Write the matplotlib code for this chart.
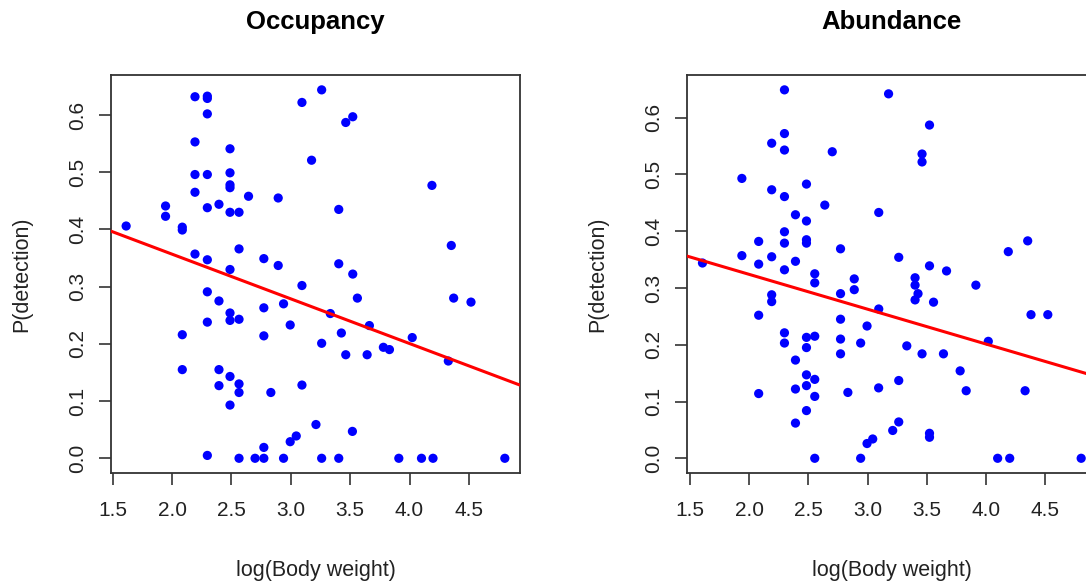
import matplotlib
matplotlib.use("Agg")
import matplotlib.pyplot as plt
import numpy as np

plt.rcParams['font.family'] = ['Liberation Sans', 'DejaVu Sans']

# log body weight vs detection probability, occupancy models
occ_x = [1.613, 1.945, 1.945, 2.086, 2.086, 2.193, 2.297, 2.297, 2.297, 2.193,
         2.488, 2.193, 2.297, 2.488, 2.488, 2.488, 2.193, 2.644, 2.894, 2.297,
         2.395, 2.488, 2.564, 3.094, 3.175, 2.193, 2.564, 2.297, 2.773, 2.894,
         2.488, 3.260, 3.522, 3.463, 4.189, 3.404, 4.352, 3.404, 3.522, 3.094,
         2.297, 2.395, 2.488, 2.488, 2.564, 2.773, 2.939, 2.995, 2.297, 2.773,
         2.086, 2.086, 2.395, 2.488, 2.395, 2.564, 2.564, 2.832, 3.094, 2.488,
         2.297, 2.564, 2.699, 2.773, 2.773, 2.939, 2.995, 3.046, 3.561, 4.372,
         4.518, 3.333, 3.662, 3.426, 3.260, 4.023, 3.463, 3.643, 3.780, 3.831,
         4.327, 3.212, 3.519, 3.260, 3.404, 3.910, 4.101, 4.198, 4.803]
occ_p = [0.406, 0.441, 0.423, 0.404, 0.399, 0.632, 0.633, 0.629, 0.602, 0.553,
         0.541, 0.496, 0.496, 0.499, 0.478, 0.473, 0.465, 0.458, 0.455, 0.438,
         0.444, 0.430, 0.430, 0.622, 0.521, 0.357, 0.366, 0.347, 0.349, 0.337,
         0.330, 0.644, 0.597, 0.587, 0.477, 0.435, 0.372, 0.340, 0.322, 0.302,
         0.291, 0.275, 0.254, 0.241, 0.243, 0.263, 0.270, 0.233, 0.238, 0.214,
         0.216, 0.155, 0.155, 0.143, 0.127, 0.130, 0.115, 0.115, 0.128, 0.093,
         0.005, 0.000, 0.000, 0.000, 0.019, 0.000, 0.029, 0.039, 0.280, 0.280,
         0.273, 0.253, 0.232, 0.219, 0.201, 0.211, 0.181, 0.181, 0.194, 0.190,
         0.170, 0.059, 0.047, 0.000, 0.000, 0.000, 0.000, 0.000, 0.000]

# same species, abundance models
abu_x = [2.297, 3.177, 2.297, 2.189, 2.297, 2.701, 1.937, 2.189, 2.483, 2.297,
         2.638, 3.094, 2.390, 2.483, 2.297, 2.079, 2.297, 2.483, 2.483, 2.771,
         1.937, 1.604, 2.189, 2.079, 2.390, 2.297, 2.553, 2.887, 3.523, 3.460,
         3.460, 3.263, 4.353, 4.189, 3.523, 3.667, 3.401, 2.553, 2.887, 2.189,
         2.189, 2.771, 2.079, 2.771, 2.995, 3.094, 2.297, 2.297, 2.483, 2.553,
         2.483, 2.771, 2.941, 2.771, 2.390, 2.483, 2.553, 2.483, 2.390, 2.553,
         2.079, 2.833, 3.093, 2.483, 2.390, 2.553, 2.941, 2.995, 3.043, 3.212,
         3.263, 3.401, 3.426, 3.401, 3.915, 3.557, 4.381, 4.523, 4.020, 3.331,
         3.460, 3.641, 3.782, 3.833, 4.331, 3.263, 3.523, 3.523, 4.099, 4.201,
         4.805]
abu_p = [0.649, 0.642, 0.572, 0.555, 0.543, 0.540, 0.493, 0.473, 0.483, 0.461,
         0.446, 0.433, 0.429, 0.418, 0.399, 0.382, 0.379, 0.385, 0.379, 0.369,
         0.357, 0.344, 0.355, 0.342, 0.347, 0.332, 0.325, 0.316, 0.587, 0.536,
         0.522, 0.354, 0.383, 0.364, 0.339, 0.330, 0.318, 0.309, 0.297, 0.288,
         0.276, 0.290, 0.252, 0.245, 0.233, 0.263, 0.221, 0.203, 0.213, 0.215,
         0.195, 0.210, 0.203, 0.184, 0.173, 0.147, 0.139, 0.128, 0.122, 0.109,
         0.114, 0.116, 0.124, 0.084, 0.062, 0.000, 0.000, 0.026, 0.034, 0.049,
         0.064, 0.305, 0.290, 0.279, 0.305, 0.275, 0.253, 0.253, 0.206, 0.198,
         0.184, 0.184, 0.154, 0.119, 0.119, 0.137, 0.044, 0.037, 0.000, 0.000,
         0.000]

# fitted regression lines (intercept, slope)
occ_fit = (0.513, -0.0781)
abu_fit = (0.4465, -0.0613)

x_ticks = [1.5, 2.0, 2.5, 3.0, 3.5, 4.0, 4.5]
y_ticks = [0.0, 0.1, 0.2, 0.3, 0.4, 0.5, 0.6]

panels = [("Occupancy", occ_x, occ_p, occ_fit, 0.1022),
          ("Abundance", abu_x, abu_p, abu_fit, 0.6329)]


def padded(vals, frac=0.04):
    # base-graphics style 4% range extension
    lo, hi = min(vals), max(vals)
    d = (hi - lo) * frac
    return lo - d, hi + d


fig = plt.figure(figsize=(10.86, 5.86), dpi=100)

for title, xs, ps, fit, left in panels:
    ax = fig.add_axes([left, 0.1928, 0.3766, 0.679])
    ax.scatter(xs, ps, s=44, color='#0000ff', edgecolors='none', zorder=3)
    x0 = np.mean(xs)
    ax.axline((x0, fit[0] + fit[1] * x0), slope=fit[1], color='#ff0000',
              lw=2.2, zorder=4)
    ax.set_xlim(*padded(xs))
    ax.set_ylim(*padded(ps))

    ax.set_xticks(x_ticks)
    ax.set_xticklabels([f"{v:.1f}" for v in x_ticks])
    ax.set_yticks(y_ticks)
    ax.set_yticklabels([f"{v:.1f}" for v in y_ticks], rotation=90, va='center')
    ax.tick_params(direction='out', length=8.5, width=1.2, color='#333333',
                   labelsize=15, labelcolor='#222222')
    ax.tick_params(axis='x', pad=12)
    ax.tick_params(axis='y', pad=9)
    for sp in ax.spines.values():
        sp.set_color('#333333')
        sp.set_linewidth(1.3)

    ax.set_xlabel("log(Body weight)", fontsize=15.5, color='#222222')
    ax.set_ylabel("P(detection)", fontsize=15.5, color='#222222')
    ax.xaxis.label.set_verticalalignment('center')
    ax.yaxis.label.set_verticalalignment('center')
    ax.xaxis.set_label_coords(0.5, -0.246)
    ax.yaxis.set_label_coords(-0.218, 0.5)
    ax.set_title(title, fontsize=18.5, fontweight='bold', y=1.133, va='center', pad=0)

fig.savefig("out.png", dpi=100)
